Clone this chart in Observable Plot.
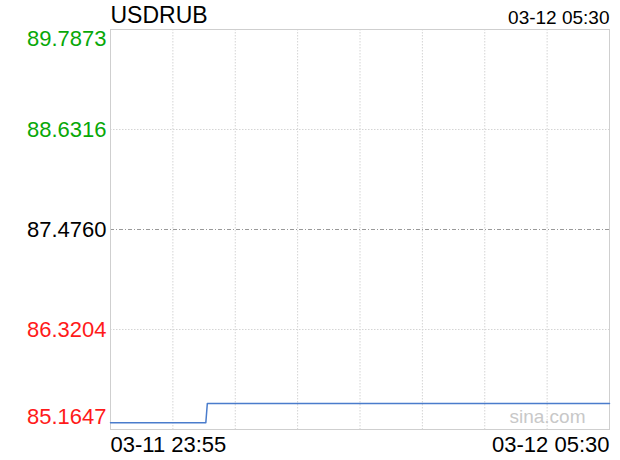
<!DOCTYPE html>
<html>
<head>
<meta charset="utf-8">
<script src="https://cdn.jsdelivr.net/npm/d3@7"></script>
<script src="https://cdn.jsdelivr.net/npm/@observablehq/plot@0.6"></script>
<style>
  html, body { margin: 0; padding: 0; background: #fff; }
</style>
</head>
<body>
<div id="chart"></div>
<script>
const title = "USDRUB";
const timeLabels = ["03-11 23:55", "03-12 05:30"];
const domainTimes = ["2024-03-11T23:55:00Z", "2024-03-12T05:30:00Z"];
const tickLabels = ["89.7873", "88.6316", "87.4760", "86.3204", "85.1647"];
const tickColors = ["#08a808", "#08a808", "#000000", "#ff1a1a", "#ff1a1a"];
const times = ["2024-03-11T23:55:00Z", "2024-03-12T00:59:00Z", "2024-03-12T01:00:00Z", "2024-03-12T05:30:00Z"];
const prices = [85.242, 85.242, 85.465, 85.465];

const tickValues = tickLabels.map(Number);
const data = times.map((t, i) => ({t: new Date(t), p: prices[i]}));
const start = new Date(domainTimes[0]), end = new Date(domainTimes[1]);
const vGrid = d3.range(1, 8).map(i => new Date(+start + i * (end - start) / 8));
const ticks = tickLabels.map((l, i) => ({v: tickValues[i], label: l, color: tickColors[i]}));
const topTick = ticks.slice(0, 1), midTicks = ticks.slice(1, 4), botTick = ticks.slice(4);
const midTick = tickValues[2];
const otherTicks = [tickValues[1], tickValues[3]];
const labelOpts = {y: "v", text: "label", fill: "color", frameAnchor: "left", textAnchor: "end", dx: -4, fontSize: 22};

const chart = Plot.plot({
  width: 620,
  height: 460,
  marginLeft: 110,
  marginRight: 11,
  marginTop: 29,
  marginBottom: 31,
  x: {type: "utc", domain: [start, end], axis: null},
  y: {domain: [tickValues[4], tickValues[0]], axis: null},
  style: {fontFamily: "'Liberation Sans', Arial, Helvetica, sans-serif", background: "#fff"},
  marks: [
    Plot.ruleX(vGrid, {stroke: "#d4d4d4", strokeDasharray: "1.5,1.5", strokeWidth: 1}),
    Plot.ruleY(otherTicks, {stroke: "#d4d4d4", strokeDasharray: "1.5,1.5", strokeWidth: 1}),
    Plot.ruleY([midTick], {stroke: "#999", strokeDasharray: "4,2,1,2", strokeWidth: 1}),
    Plot.frame({stroke: "#cfcfcf"}),
    Plot.text(["sina.com"], {frameAnchor: "bottom-right", dx: -24, dy: -7, lineAnchor: "bottom", textAnchor: "end", fill: "#c8c8c8", fontSize: 19}),
    Plot.line(data, {x: "t", y: "p", stroke: "#4a7ccc", strokeWidth: 1.5}),
    Plot.text(topTick, {...labelOpts, lineAnchor: "top", dy: 1}),
    Plot.text(midTicks, {...labelOpts, lineAnchor: "middle"}),
    Plot.text(botTick, {...labelOpts, lineAnchor: "bottom", dy: -6}),
    Plot.text([title], {frameAnchor: "top-left", textAnchor: "start", lineAnchor: "bottom", dy: -7, fontSize: 23}),
    Plot.text([timeLabels[1]], {frameAnchor: "top-right", textAnchor: "end", lineAnchor: "bottom", dy: -6, fontSize: 19}),
    Plot.text([timeLabels[0]], {frameAnchor: "bottom-left", textAnchor: "start", lineAnchor: "top", dy: 7, fontSize: 22}),
    Plot.text([timeLabels[1]], {frameAnchor: "bottom-right", textAnchor: "end", lineAnchor: "top", dy: 7, fontSize: 22})
  ]
});
document.getElementById("chart").appendChild(chart);
</script>
</body>
</html>
